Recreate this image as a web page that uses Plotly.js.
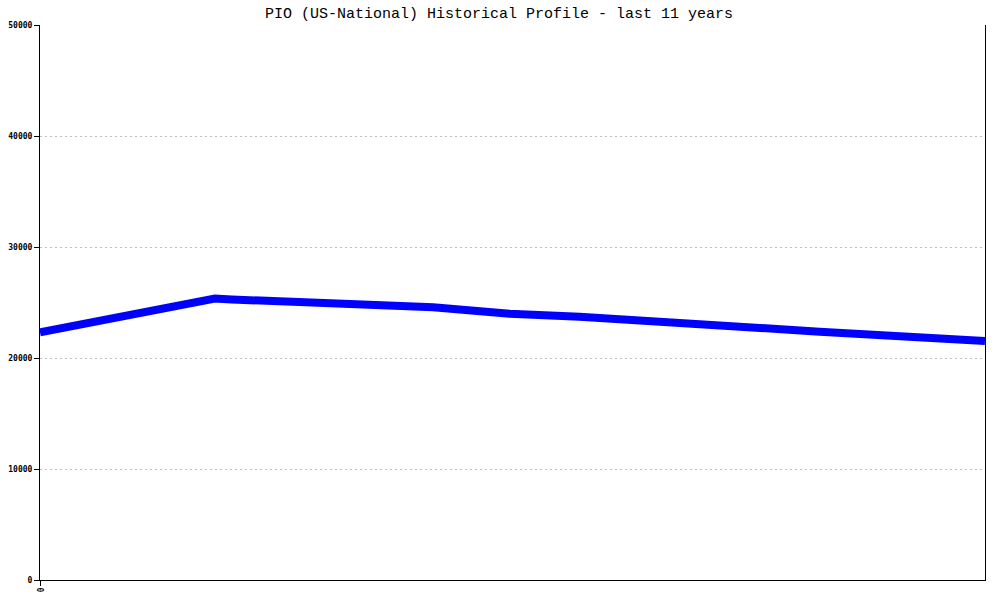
<!DOCTYPE html>
<html>
<head>
<meta charset="utf-8">
<script src="https://cdn.plot.ly/plotly-3.0.1.min.js"></script>
<style>html,body{margin:0;padding:0;background:#fff;}#chart{width:1000px;height:600px;}</style>
</head>
<body>
<div id="chart"></div>
<script>
// Time position in years from start of the 11-year window
const yearOffset = [0, 1.85, 2.03, 4.16, 4.97, 5.71, 8.25, 10];
// Population values
const population = [22320, 25360, 25270, 24570, 23990, 23720, 22370, 21530];
const yTicks = [0, 10000, 20000, 30000, 40000, 50000];
const xTickVals = [0];
const xTickText = ['0'];

const trace = {
  x: yearOffset,
  y: population,
  type: 'scatter',
  mode: 'lines',
  line: {color: '#0000ff', width: 8},
  hoverinfo: 'skip'
};

const layout = {
  width: 1000,
  height: 600,
  margin: {l: 40, r: 15, t: 25, b: 20},
  paper_bgcolor: '#ffffff',
  plot_bgcolor: '#ffffff',
  showlegend: false,
  title: {
    text: 'PIO (US-National) Historical Profile - last 11 years',
    font: {family: 'Liberation Mono, DejaVu Sans Mono, monospace', size: 15, color: '#000'},
    x: 0.499, xanchor: 'center', xref: 'container', y: 0.979, yanchor: 'middle', yref: 'container'
  },
  xaxis: {
    range: [0, 10],
    tickvals: xTickVals,
    ticktext: xTickText,
    tickangle: 90,
    ticks: 'outside',
    ticklen: 5,
    tickcolor: '#000',
    tickfont: {family: 'DejaVu Sans Mono, monospace', size: 8, color: '#000', weight: 'bold'},
    showgrid: false,
    zeroline: false,
    showline: true,
    linecolor: '#000',
    linewidth: 1
  },
  yaxis: {
    range: [0, 50000],
    tickvals: yTicks,
    ticktext: yTicks.map(String),
    ticks: 'outside',
    ticklen: 5,
    tickcolor: '#000',
    tickfont: {family: 'DejaVu Sans Mono, monospace', size: 8, color: '#000', weight: 'bold'},
    showgrid: true,
    gridcolor: '#c0c0c0',
    griddash: '2px,3px',
    gridwidth: 1,
    zeroline: false,
    showline: true,
    mirror: true,
    linecolor: '#000',
    linewidth: 1
  }
};

Plotly.newPlot('chart', [trace], layout, {displayModeBar: false, staticPlot: true});
</script>
</body>
</html>
